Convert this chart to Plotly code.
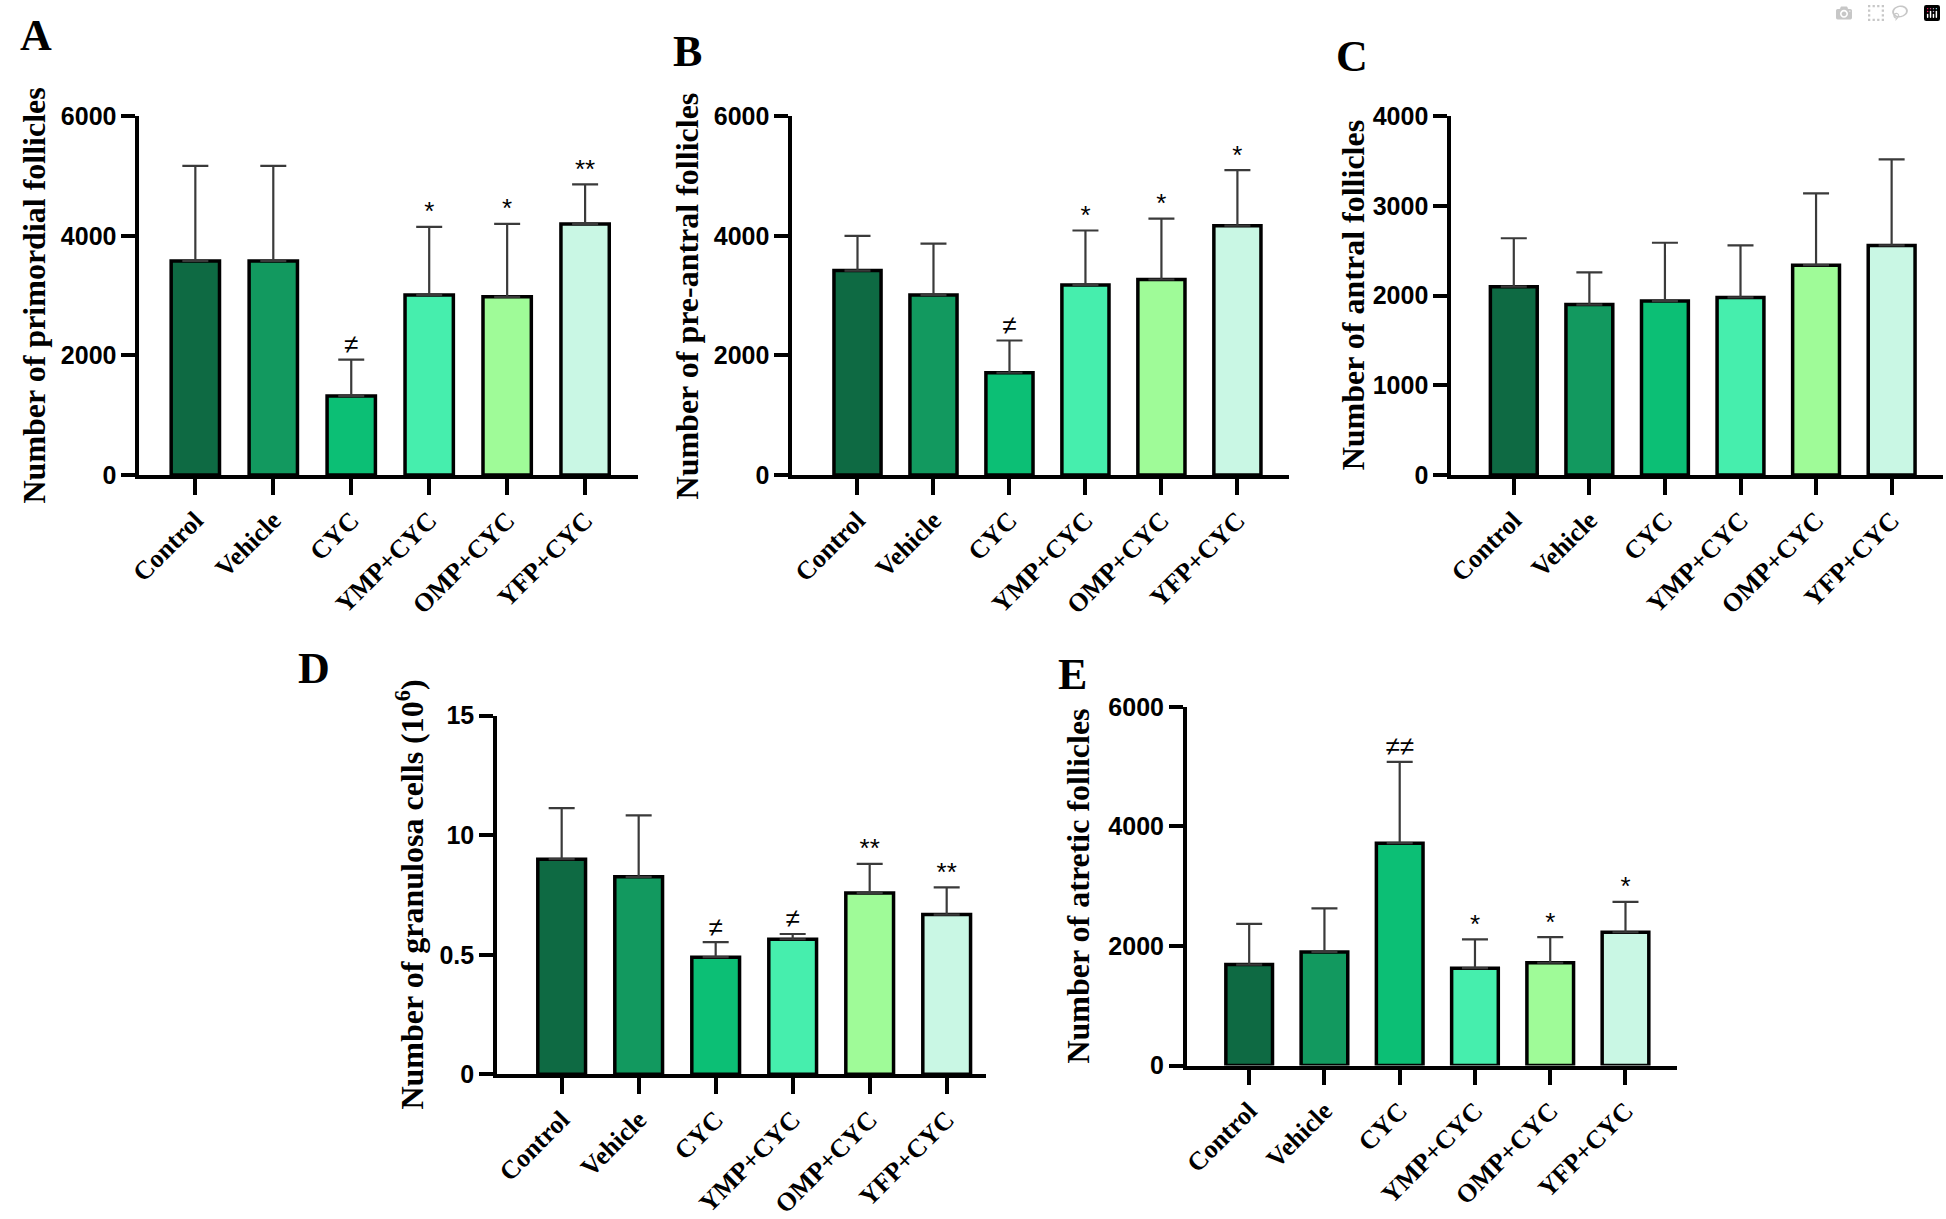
import plotly.graph_objects as go

# groups and colours
groups = ["Control", "Vehicle", "CYC", "YMP+CYC", "OMP+CYC", "YFP+CYC"]
bar_colors = ["#0e6a43", "#12995f", "#0cbf75", "#46eead", "#9ffb98", "#c9f7e4"]

# A: primordial follicles
primordial_mean = [3580, 3580, 1320, 3010, 2980, 4200]
primordial_sd = [1590, 1590, 610, 1140, 1220, 660]
primordial_sig = ["", "", "≠", "*", "*", "**"]

# B: pre-antral follicles
preantral_mean = [3420, 3010, 1710, 3180, 3270, 4170]
preantral_sd = [580, 860, 540, 910, 1020, 930]
preantral_sig = ["", "", "≠", "*", "*", "*"]

# C: antral follicles
antral_mean = [2100, 1900, 1940, 1980, 2340, 2560]
antral_sd = [540, 360, 650, 580, 800, 960]
antral_sig = ["", "", "", "", "", ""]

# D: granulosa cells (axis units as drawn)
granulosa_mean = [9.0, 8.26, 4.9, 5.65, 7.58, 6.68]
granulosa_sd = [2.13, 2.57, 0.63, 0.22, 1.22, 1.14]
granulosa_sig = ["", "", "≠", "≠", "**", "**"]
granulosa_tickvals = [0, 5, 10, 15]
granulosa_ticktext = ["0", "0.5", "10", "15"]

# E: atretic follicles
atretic_mean = [1690, 1900, 3720, 1630, 1720, 2230]
atretic_sd = [680, 730, 1360, 480, 430, 510]
atretic_sig = ["", "", "≠≠", "*", "*", "*"]

W, H = 1946, 1219


def px_x(v):
    return v / W


def px_y(v):
    return 1 - v / H


fig = go.Figure()

panels = [
    # letter, mean, sd, sig, title, yrange, tickvals, ticktext, x0, x1, ytop, ybot, xrange, title_x, letter_xy
    ("A", primordial_mean, primordial_sd, primordial_sig, "Number of primordial follicles",
     [0, 6000], [0, 2000, 4000, 6000], None, 128, 630, 105, 473, [-0.72, 5.68], 22, (24, 22)),
    ("B", preantral_mean, preantral_sd, preantral_sig, "Number of pre-antral follicles",
     [0, 6000], [0, 2000, 4000, 6000], None, 785, 1285, 105, 473, [-0.86, 5.68], 679, (680, 38)),
    ("C", antral_mean, antral_sd, antral_sig, "Number of antral follicles",
     [0, 4000], [0, 1000, 2000, 3000, 4000], None, 1448, 1943, 105, 473, [-0.83, 5.68], 1349, (1348, 44)),
    ("D", granulosa_mean, granulosa_sd, granulosa_sig, "Number of granulosa cells (10<sup>6</sup>)",
     [0, 15], granulosa_tickvals, granulosa_ticktext, 488, 980, 720, 1088, [-0.84, 5.51], 400, (304, 672)),
    ("E", atretic_mean, atretic_sd, atretic_sig, "Number of atretic follicles",
     [0, 6000], [0, 2000, 4000, 6000], None, 1182, 1675, 711, 1079, [-0.83, 5.68], 1073, (1067, 678)),
]

serif = "Liberation Serif, Times New Roman, serif"
sans = "Liberation Sans, Arial, sans-serif"

for i, (letter, mean, sd, sig, title, yr, tv, tt, x0, x1, yt, yb, xr, tx, lxy) in enumerate(panels):
    n = "" if i == 0 else str(i + 1)
    xa, ya = "x" + n, "y" + n
    fig.add_trace(go.Bar(
        x=groups, y=mean, xaxis=xa, yaxis=ya, width=0.62,
        marker=dict(color=bar_colors, line=dict(color="black", width=3.5)),
        error_y=dict(type="data", symmetric=False, array=sd, arrayminus=[0] * len(sd),
                     color="#3a3a3a", thickness=2.2, width=13),
        showlegend=False,
    ))
    # significance marks above the error caps (only where there is one)
    marks = [(g, m + s, t) for g, m, s, t in zip(groups, mean, sd, sig) if t]
    if marks:
        fig.add_trace(go.Scatter(
            x=[k[0] for k in marks], y=[k[1] for k in marks], xaxis=xa, yaxis=ya,
            mode="text", text=[k[2] for k in marks],
            textposition="top center", textfont=dict(family=sans, size=26, color="black"),
            showlegend=False, hoverinfo="skip",
        ))
    fig.layout["xaxis" + n] = dict(
        domain=[px_x(x0), px_x(x1)], anchor=ya, range=xr, type="category",
        showline=True, linecolor="black", linewidth=3.5,
        ticks="outside", ticklen=16, tickwidth=3.5, tickcolor="black",
        tickangle=-45, tickfont=dict(family=serif, size=26, color="black", weight="bold"),
        showgrid=False, zeroline=False, fixedrange=True,
    )
    fig.layout["yaxis" + n] = dict(
        domain=[px_y(yb), px_y(yt)], anchor=xa, range=yr,
        tickvals=tv, ticktext=tt,
        showline=True, linecolor="black", linewidth=3.5,
        ticks="outside", ticklen=14, tickwidth=3.5, tickcolor="black",
        tickfont=dict(family=sans, size=25, color="black", weight="bold"),
        showgrid=False, zeroline=False, fixedrange=True,
    )
    fig.add_annotation(
        x=px_x(tx), y=px_y((yt + yb) / 2), xref="paper", yref="paper",
        text=title, textangle=-90, showarrow=False, xanchor="center", yanchor="middle",
        font=dict(family=serif, size=32, color="black", weight="bold"),
    )
    fig.add_annotation(
        x=px_x(lxy[0]), y=px_y(lxy[1]), xref="paper", yref="paper",
        text=letter, showarrow=False, xanchor="center", yanchor="middle",
        font=dict(family=serif, size=44, color="black", weight="bold"),
    )

fig.update_layout(
    width=W, height=H, margin=dict(l=0, r=0, t=0, b=0),
    paper_bgcolor="white", plot_bgcolor="white", bargap=0.38,
)

fig.write_html("out.html", post_script="document.body.style.margin='0';document.body.style.overflow='hidden';")
